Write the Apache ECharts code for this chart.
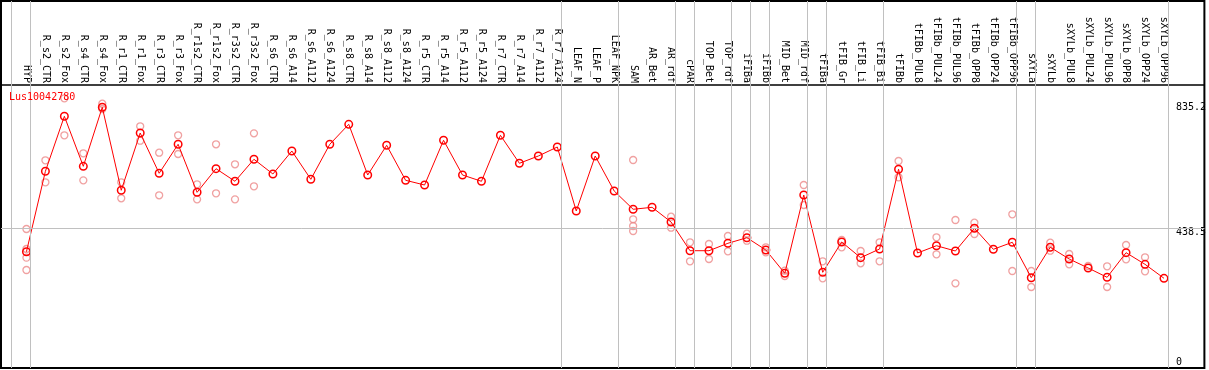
<!DOCTYPE html>
<html><head><meta charset="utf-8">
<script src="https://cdn.jsdelivr.net/npm/echarts@6/dist/echarts.min.js"></script>
<style>html,body{margin:0;padding:0;background:#fff}#c{width:1209px;height:370px}</style>
</head><body><div id="c"></div>
<script>
const geneId = 'Lus10042780';
const categories = ['HYP','R_s2_CTR','R_s2_Fox','R_s4_CTR','R_s4_Fox','R_r1_CTR','R_r1_Fox','R_r3_CTR','R_r3_Fox','R_r1s2_CTR','R_r1s2_Fox','R_r3s2_CTR','R_r3s2_Fox','R_s6_CTR','R_s6_A14','R_s6_A112','R_s6_A124','R_s8_CTR','R_s8_A14','R_s8_A112','R_s8_A124','R_r5_CTR','R_r5_A14','R_r5_A112','R_r5_A124','R_r7_CTR','R_r7_A14','R_r7_A112','R_r7_A124','LEAF_N','LEAF_P','LEAF_NPK','SAM','AR_Bet','AR_rdf','cPAR','TOP_Bet','TOP_rdf','iFIBa','iFIBb','MID_Bet','MID_rdf','tFIBa','tFIB_Gr','tFIB_Li','tFIB_Bi','tFIBb','tFIBb_PUL8','tFIBb_PUL24','tFIBb_PUL96','tFIBb_OPP8','tFIBb_OPP24','tFIBb_OPP96','sXYLa','sXYLb','sXYLb_PUL8','sXYLb_PUL24','sXYLb_PUL96','sXYLb_OPP8','sXYLb_OPP24','sXYLb_OPP96'];
const means = [361.6,625.3,805.6,641.6,835.2,563.0,750.8,618.7,713.8,556.4,633.8,592.5,664.6,616.4,691.8,599.0,713.8,779.3,613.1,710.5,595.7,580.3,726.9,613.1,592.5,743.3,651.5,675.4,704.9,495.1,675.4,560.7,500.7,507.2,459.0,364.9,364.9,389.2,407.5,367.2,290.8,547.5,294.1,393.4,342.0,370.5,632.1,357.4,381.3,363.9,438.5,369.5,392.5,276.4,376.1,337.7,308.2,277.7,358.4,320.3,274.4];
const replicates = [
  [436.1,370.5,342.0,301.6],[661.3,589.2],[864.6,743.3],[684.3,595.7],[846.9,829.5],
  [589.2,536.7],[772.8,725.6],[686.2,546.6],[743.3,682.0],[582.6,533.4],
  [713.8,553.1],[648.2,533.4],[749.8,576.1],[],[],
  [],[],[],[],[],
  [],[],[],[],[],
  [],[],[],[],[],
  [],[],[662.3,467.9,445.9,429.5],[],[476.4,440.3],
  [392.5,330.2],[386.9,337.7],[413.1,363.0],[420.7,397.7],[376.1,359.7],
  [299.3,282.0],[580.3,514.8],[330.2,274.4],[400.0,376.1],[363.9,323.6],
  [392.5,330.2],[659.0,605.6],[],[408.9,353.1],[465.6,258.0],
  [456.7,419.7],[],[484.3,298.4],[298.4,245.9],[391.1,364.9],
  [354.1,320.3],[314.8],[313.8,245.9],[383.6,336.7],[343.3,297.4],
  []
];
const groupStarts = [0,1,29,32,35,36,38,39,40,42,43,46,53,54,61];
const yTickValues = [0, 438.5, 835.2];
const yTickLabels = ['0', '438.5', '835.2'];
const refLine = 438.5;

const lineData = means.map((v, i) => [i, v]);
const repData = [];
replicates.forEach((arr, i) => arr.forEach(v => repData.push([i, v])));
const sepLines = groupStarts.map(s => ({ xAxis: s - 0.8 }));
const mono = 'DejaVu Sans Mono';

const chart = echarts.init(document.getElementById('c'), null, { renderer: 'canvas' });
chart.setOption({
  animation: false,
  backgroundColor: '#fff',
  title: {
    text: geneId, left: 9, top: 92, padding: 0,
    textStyle: { color: '#ff0000', fontSize: 10, fontWeight: 'normal', fontFamily: mono }
  },
  grid: { left: 1, right: 2, top: 1, bottom: 2, show: true, borderColor: '#000', borderWidth: 2, backgroundColor: 'transparent' },
  xAxis: {
    type: 'value', position: 'top', offset: -84,
    min: (1 - 26.5) / 19, max: (1207 - 26.5) / 19,
    axisLine: { show: true, onZero: false, lineStyle: { color: '#000', width: 1.5 } },
    axisTick: { show: false },
    splitLine: { show: false },
    axisLabel: {
      show: true, rotate: 90, margin: 2, color: '#000', fontSize: 10, fontFamily: mono,
      customValues: categories.map((c, i) => i),
      formatter: v => categories[Math.round(v)] || ''
    }
  },
  yAxis: {
    type: 'value', position: 'right', min: -19.67, max: 1183.6,
    axisLine: { show: false, onZero: false },
    axisTick: { show: false },
    splitLine: { show: false },
    axisLabel: {
      show: true, inside: true, align: 'left', margin: 28.5, color: '#000',
      fontSize: 10, fontFamily: mono, lineHeight: 7.4, verticalAlign: 'middle',
      customValues: yTickValues,
      formatter: v => {
        const idx = yTickValues.findIndex(t => Math.abs(t - v) < 1e-6);
        const s = idx >= 0 ? yTickLabels[idx] : '';
        return v === refLine ? '\n' + s : s;
      }
    }
  },
  series: [
    {
      type: 'scatter', data: repData, symbol: 'circle', symbolSize: 7, z: 2,
      itemStyle: { color: 'rgba(255,255,255,0)', borderColor: '#ec8a8a', borderWidth: 1.3 },
      silent: true,
      markLine: {
        silent: true, symbol: 'none', label: { show: false }, animation: false,
        lineStyle: { color: '#c0c0c0', width: 1, type: 'solid' },
        data: sepLines.concat([{ yAxis: refLine }])
      }
    },
    {
      type: 'line', data: lineData, symbol: 'circle', symbolSize: 7.5, z: 3,
      lineStyle: { color: '#ff0000', width: 1 },
      itemStyle: { color: 'rgba(255,255,255,0)', borderColor: '#ff0000', borderWidth: 1.5 },
      silent: true
    }
  ]
});
</script></body></html>
